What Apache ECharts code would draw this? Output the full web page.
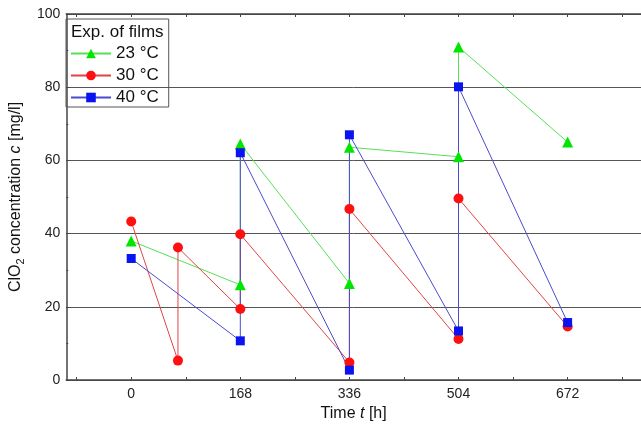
<!DOCTYPE html>
<html>
<head>
<meta charset="utf-8">
<script src="https://cdn.jsdelivr.net/npm/echarts@6/dist/echarts.min.js"></script>
<style>
  html, body { margin: 0; padding: 0; background: #fff; }
  #chart { width: 641px; height: 427px; }
</style>
</head>
<body>
<div id="chart"></div>
<script>
// time [h], ClO2 concentration [mg/l]
const data23 = [[0, 38], [168, 26], [168, 64.5], [336, 26.4], [336, 63.6], [504, 61], [504, 91], [672, 65]]
const data30 = [[0, 43.3], [72, 5.3], [72, 36.2], [168, 19.4], [168, 39.8], [336, 4.8], [336, 46.7], [504, 11.2], [504, 49.6], [672, 14.6]]
const data40 = [[0, 33.2], [168, 10.7], [168, 62.1], [336, 2.7], [336, 67], [504, 13.4], [504, 80.1], [672, 15.7]]
const xLabels = [0, 168, 336, 504, 672]
const xTicks = [-84, 0, 84, 168, 252, 336, 420, 504, 588, 672, 756]

const font = 'Liberation Sans, Arial, sans-serif'
const axisColor = '#444'

const chart = echarts.init(document.getElementById('chart'))

function xAxisBase(pos) {
  return {
    type: 'value',
    position: pos,
    min: -100,
    max: 785,
    axisLine: { show: true, onZero: false, lineStyle: { color: axisColor, width: 1.5 } },
    axisTick: { show: true, inside: true, length: 3, customValues: xTicks, lineStyle: { color: axisColor } },
    splitLine: { show: false },
  }
}

chart.setOption({
  animation: false,
  textStyle: { fontFamily: font },
  grid: { left: 60, right: 0, top: 14, bottom: 39 },
  legend: {
    orient: 'vertical',
    left: 66,
    top: 19,
    width: 90,
    padding: [26, 10, 1, 4],
    borderColor: '#555',
    borderWidth: 1,
    itemWidth: 40,
    itemHeight: 12,
    itemGap: 5,
    textStyle: { fontSize: 17, color: '#111', fontFamily: font },
    data: ['23 °C', '30 °C', '40 °C'],
  },
  graphic: [
    {
      type: 'text',
      left: 71,
      top: 24,
      style: { text: 'Exp. of films', fontSize: 17, fill: '#111', fontFamily: font },
    },
  ],
  xAxis: [
    Object.assign(xAxisBase('bottom'), {
      name: 'Time {i|t} [h]',
      nameLocation: 'middle',
      nameGap: 26,
      nameTextStyle: {
        fontSize: 16, color: '#111', fontFamily: font,
        rich: { i: { fontSize: 16, fontStyle: 'italic', color: '#111', fontFamily: font } },
      },
      axisLabel: { customValues: xLabels, fontSize: 14, color: '#222', margin: 7 },
    }),
    Object.assign(xAxisBase('top'), { axisLabel: { show: false } }),
  ],
  yAxis: {
    type: 'value',
    min: 0,
    max: 100,
    interval: 20,
    name: 'ClO{sub|2} concentration {i|c} [mg/l]',
    nameLocation: 'middle',
    nameGap: 38,
    nameTextStyle: {
      fontSize: 16, color: '#111', fontFamily: font,
      rich: {
        sub: { fontSize: 11, color: '#111', fontFamily: font, padding: [9, 0, 0, 0] },
        i: { fontSize: 16, fontStyle: 'italic', color: '#111', fontFamily: font },
      },
    },
    axisLine: { show: true, onZero: false, lineStyle: { color: axisColor, width: 1.5 } },
    axisTick: { show: true, inside: true, length: 3, lineStyle: { color: axisColor } },
    minorTick: { show: true, splitNumber: 2, length: 2, lineStyle: { color: axisColor } },
    axisLabel: { fontSize: 14, color: '#222', margin: 6 },
    splitLine: { show: true, lineStyle: { color: '#555', width: 1 } },
  },
  series: [
    {
      name: '23 °C', type: 'line', data: data23,
      symbol: 'triangle', symbolSize: 11,
      itemStyle: { color: '#00e600' },
      lineStyle: { color: '#55e055', width: 1 },
    },
    {
      name: '30 °C', type: 'line', data: data30,
      symbol: 'circle', symbolSize: 10,
      itemStyle: { color: '#ff1010' },
      lineStyle: { color: '#e04545', width: 1 },
    },
    {
      name: '40 °C', type: 'line', data: data40,
      symbol: 'rect', symbolSize: 9,
      itemStyle: { color: '#0a14f0' },
      lineStyle: { color: '#4a4ad0', width: 1 },
    },
  ],
})
</script>
</body>
</html>
